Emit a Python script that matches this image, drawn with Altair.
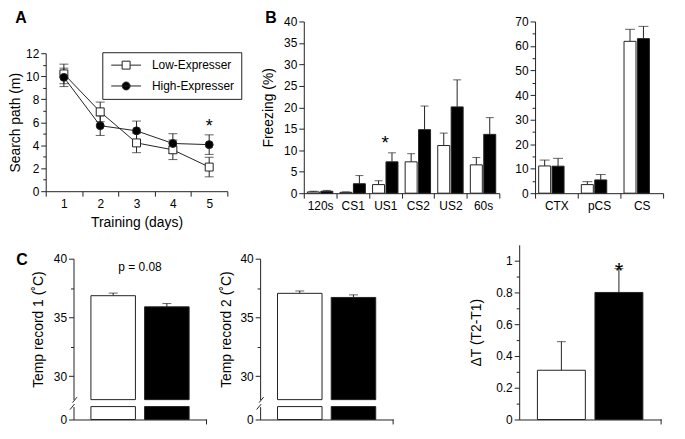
import altair as alt
import pandas as pd

FONT = "Liberation Sans"
INK = "#222222"

groups = ["Low-Expresser", "High-Expresser"]
group_fills = ["#ffffff", "#000000"]

# ---- Panel A: search path (m) by training day
days = [1, 2, 3, 4, 5]
a_low = [10.2, 6.9, 4.2, 3.6, 2.1]
a_low_err = [0.85, 0.85, 0.85, 0.85, 0.85]
a_high = [9.9, 5.7, 5.25, 4.15, 4.05]
a_high_err = [0.8, 0.85, 0.85, 0.85, 0.85]
a_y_ticks = list(range(0, 13))
a_star_day = [5]
a_star_y = [5.55]

# ---- Panel B: freezing (%)
b1_cats = ["120s", "CS1", "US1", "CS2", "US2", "60s"]
b1_low = [0.3, 0.2, 2.0, 7.3, 11.1, 6.6]
b1_low_err = [0.15, 0.1, 0.9, 1.9, 2.9, 1.7]
b1_high = [0.45, 2.2, 7.3, 14.8, 20.1, 13.7]
b1_high_err = [0.2, 1.9, 2.1, 5.5, 6.3, 3.9]
b1_y_ticks = list(range(0, 41, 5))
b1_star_cat = ["US1"]
b1_star_y = [11.7]

b2_cats = ["CTX", "pCS", "CS"]
b2_low = [11.1, 3.5, 61.9]
b2_low_err = [2.4, 1.2, 4.9]
b2_high = [11.0, 5.4, 63.0]
b2_high_err = [3.2, 2.2, 5.0]
b2_y_ticks = list(range(0, 71, 5))

# ---- Panel C: temperatures
c1_vals = [36.85, 35.9]
c1_err = [0.22, 0.28]
c2_vals = [37.05, 36.7]
c2_err = [0.2, 0.22]
c_upper_ticks = [30, 32.5, 35, 37.5, 40]
c1_p_text = "p = 0.08"
c1_p_y = [39.25]
c3_vals = [0.31, 0.80]
c3_err = [0.18, 0.15]
c3_y_ticks = [0, 0.1, 0.2, 0.3, 0.4, 0.5, 0.6, 0.7, 0.8, 0.9, 1.0]
c3_star_y = [0.937]

SQ_PATH = "M-3.75,0H-1M1,0H3.75M-1,-1H1V1H-1Z"
CI_PATH = "M-3.75,0H3.75M1,0A1,1,0,1,1,-1,0A1,1,0,1,1,1,0Z"

one = pd.DataFrame({"k": [0]})

H1 = 173   # top row plot height
H2 = 176   # bottom row plot height
WA, WB1, WB2 = 196, 197, 129
WC1, WC2, WC3 = WA, WB1, WB2


def label(txt, x, y, size=16, weight="bold"):
    return alt.Chart(one).mark_text(
        text=txt, font=FONT, fontSize=size, fontWeight=weight, color="#000000",
        align="center", baseline="alphabetic"
    ).encode(x=alt.value(x), y=alt.value(y))


def fill_enc():
    return alt.Fill("group:N", scale=alt.Scale(domain=groups, range=group_fills), legend=None)


# ================= Panel A =================
dfA = pd.DataFrame({
    "day": days + days,
    "group": [groups[0]] * 5 + [groups[1]] * 5,
    "value": a_low + a_high,
    "err": a_low_err + a_high_err,
})
dfA["lo"] = dfA["value"] - dfA["err"]
dfA["hi"] = dfA["value"] + dfA["err"]
dfA["hidden"] = -5.0

xA = alt.X("day:O", scale=alt.Scale(type="band", domain=days, paddingInner=0, paddingOuter=0, range=[-28, 155]),
           axis=alt.Axis(title="Training (days)", labelAngle=0, tickBand="extent", offset=-2, titlePadding=7))
yA_scale = alt.Scale(domain=[0, 12], range=[H1 - 2, 32], nice=False)
yA_axis = alt.Axis(title="Search path (m)", values=a_y_ticks, offset=28, titlePadding=3,
                   labelExpr="datum.value % 2 == 0 ? datum.label : ''",
                   tickSize={"condition": {"test": "datum.value % 2 != 0", "value": 3}, "value": 5})


def yA(f):
    return alt.Y(f, scale=yA_scale, axis=yA_axis)


baseA = alt.Chart(dfA)
a_lines = baseA.mark_line(color=INK, strokeWidth=1).encode(x=xA, y=yA("value:Q"), detail="group:N")
a_err = baseA.mark_rule(color=INK, strokeWidth=1).encode(x=xA, y=yA("lo:Q"), y2="hi:Q")
a_cap_lo = baseA.mark_tick(color=INK, thickness=1, size=9).encode(x=xA, y=yA("lo:Q"))
a_cap_hi = baseA.mark_tick(color=INK, thickness=1, size=9).encode(x=xA, y=yA("hi:Q"))
a_points = baseA.mark_point(filled=True, size=64, stroke=INK, strokeWidth=1, opacity=1).encode(
    x=xA, y=yA("value:Q"),
    shape=alt.Shape("group:N", scale=alt.Scale(domain=groups, range=["square", "circle"]), legend=None),
    fill=fill_enc(),
)
leg = alt.Legend(title=None, orient="none", legendX=29, legendY=31, strokeColor=INK, padding=7,
                 labelFont=FONT, labelFontSize=12, labelColor="#000000", symbolSize=64,
                 symbolStrokeWidth=1, symbolStrokeColor=INK, symbolOpacity=1, rowPadding=9,
                 labelOffset=20, symbolOffset=11)
# legend carrier: points placed below the visible domain and clipped away
a_legend = baseA.mark_point(filled=False, size=64, strokeWidth=1, opacity=1, clip=True).encode(
    x=xA, y=yA("hidden:Q"),
    shape=alt.Shape("group:N", scale=alt.Scale(domain=groups, range=[SQ_PATH, CI_PATH]), legend=leg),
    fill=alt.Fill("group:N", scale=alt.Scale(domain=groups, range=group_fills), legend=leg),
    stroke=alt.Stroke("group:N", scale=alt.Scale(domain=groups, range=[INK, INK]), legend=leg),
)
a_star = alt.Chart(pd.DataFrame({"day": a_star_day, "y": a_star_y})).mark_text(
    text="*", font=FONT, fontSize=18, color="#000000", baseline="middle"
).encode(x=xA, y=yA("y:Q"))

panelA = alt.layer(
    a_err, a_cap_lo, a_cap_hi, a_lines, a_points, a_legend, a_star, label("A", -53, 1.5)
).resolve_scale(shape="independent", fill="independent", stroke="independent").properties(width=WA, height=H1)


# ================= Panel B =================
def freezing_panel(cats, low, low_err, high, high_err, dom, ticks, major, title, pin, pout, cap,
                   width, extra=()):
    df = pd.DataFrame({
        "cat": cats + cats,
        "group": [groups[0]] * len(cats) + [groups[1]] * len(cats),
        "value": low + high,
        "err": low_err + high_err,
    })
    df["top"] = df["value"] + df["err"]
    x = alt.X("cat:N", sort=cats, scale=alt.Scale(domain=cats, paddingInner=0, paddingOuter=0),
              axis=alt.Axis(title=None, labelAngle=0, tickBand="extent"))
    xo = alt.XOffset("group:N", sort=groups,
                     scale=alt.Scale(domain=groups, paddingInner=pin, paddingOuter=pout))
    ax_kw = dict(values=ticks, labelExpr=f"datum.value % {major} == 0 ? datum.label : ''",
                 tickSize={"condition": {"test": f"datum.value % {major} != 0", "value": 3}, "value": 5})
    if title:
        ax_kw.update(title=title, titlePadding=8)
    else:
        ax_kw.update(title=None)
    ysc = alt.Scale(domain=dom, nice=False)

    def y(f):
        return alt.Y(f, scale=ysc, axis=alt.Axis(**ax_kw))

    base = alt.Chart(df)
    bars = base.mark_bar(stroke=INK, strokeWidth=1).encode(x=x, xOffset=xo, y=y("value:Q"), fill=fill_enc())
    err = base.mark_rule(color=INK, strokeWidth=1).encode(x=x, xOffset=xo, y=y("value:Q"), y2="top:Q")
    caps = base.mark_tick(color=INK, thickness=1, size=cap).encode(x=x, xOffset=xo, y=y("top:Q"))
    layers = [err, bars, caps]
    for e in extra:
        layers.append(e(x, y))
    return alt.layer(*layers).properties(width=width, height=H1)


def b1_star(x, y):
    return alt.Chart(pd.DataFrame({"cat": b1_star_cat, "y": b1_star_y})).mark_text(
        text="*", font=FONT, fontSize=19, color="#000000", baseline="middle"
    ).encode(x=x, y=y("y:Q"))


def b_label(x, y):
    return label("B", -33, 1.5)


panelB1 = freezing_panel(b1_cats, b1_low, b1_low_err, b1_high, b1_high_err, [0, 40], b1_y_ticks, 5,
                         "Freezing (%)", 0.107, 0.268, 8, WB1, extra=(b1_star, b_label))
panelB2 = freezing_panel(b2_cats, b2_low, b2_low_err, b2_high, b2_high_err, [0, 70], b2_y_ticks, 10,
                         None, 0.133, 0.35, 10, WB2)


# ================= Panel C =================
def cx(pin, pout, rng):
    return alt.X("group:N", sort=groups,
                 scale=alt.Scale(domain=groups, paddingInner=pin, paddingOuter=pout, range=rng),
                 axis=alt.Axis(title=None, labels=False, ticks=False))


UP_BOTTOM = H2 - 20
LO_TOP = H2 - 13
CW = 134


def temp_panel(vals, errs, title, tpad, width, ax0, extra_upper=(), extra=()):
    df = pd.DataFrame({"group": groups, "value": vals, "err": errs})
    df["top"] = df["value"] + df["err"]
    x = cx(0.171, 0.324, [ax0, ax0 + CW])
    up_sc = alt.Scale(domain=[28, 40], range=[UP_BOTTOM, 14], clamp=True, nice=False, zero=False)
    up_ax = alt.Axis(orient="left", title=title, titlePadding=tpad, values=c_upper_ticks, offset=-ax0,
                     labelExpr="datum.value % 5 == 0 ? datum.label : ''",
                     tickSize={"condition": {"test": "datum.value % 5 != 0", "value": 3}, "value": 5})

    def yu(f):
        return alt.Y(f, scale=up_sc, axis=up_ax)

    base = alt.Chart(df)
    up_bars = base.mark_bar(stroke=INK, strokeWidth=1).encode(x=x, y=yu("value:Q"), y2=alt.datum(0), fill=fill_enc())
    up_err = base.mark_rule(color=INK, strokeWidth=1).encode(x=x, y=yu("value:Q"), y2="top:Q")
    up_cap = base.mark_tick(color=INK, thickness=1, size=9).encode(x=x, y=yu("top:Q"))
    ups = [up_err, up_bars, up_cap] + [e(yu) for e in extra_upper]
    upper = alt.layer(*ups)

    lo_sc = alt.Scale(domain=[0, 1], range=[H2, LO_TOP], clamp=True, nice=False)
    lo_ax = alt.Axis(orient="left", title=None, values=[0], tickSize=5, offset=-ax0)
    lower = base.mark_bar(stroke=INK, strokeWidth=1).encode(
        x=x, y=alt.Y("value:Q", scale=lo_sc, axis=lo_ax), y2=alt.datum(0), fill=fill_enc())

    brk1 = alt.Chart(one).mark_rule(color=INK, strokeWidth=1).encode(
        x=alt.value(ax0 - 1), x2=alt.value(ax0 + 3.5), y=alt.value(UP_BOTTOM + 3), y2=alt.value(UP_BOTTOM - 2.5))
    brk2 = alt.Chart(one).mark_rule(color=INK, strokeWidth=1).encode(
        x=alt.value(ax0 - 3.5), x2=alt.value(ax0 + 1), y=alt.value(LO_TOP + 3), y2=alt.value(LO_TOP - 2.5))
    endtick = alt.Chart(one).mark_rule(color=INK, strokeWidth=1).encode(
        x=alt.value(ax0 + CW), y=alt.value(H2), y2=alt.value(H2 + 5))
    return alt.layer(upper, lower, brk1, brk2, endtick, *extra).resolve_scale(y="independent").properties(
        width=width, height=H2)


def p_text(yu):
    return alt.Chart(pd.DataFrame({"py": c1_p_y})).mark_text(
        text=c1_p_text, font=FONT, fontSize=12, color="#000000", baseline="middle", align="center"
    ).encode(x=alt.value(CW / 2), y=yu("py:Q"))


panelC1 = temp_panel(c1_vals, c1_err, "Temp record 1 (˚C)", 8, WC1, 0,
                     extra_upper=(p_text,), extra=(label("C", -52, 20),))
panelC2 = temp_panel(c2_vals, c2_err, "Temp record 2 (˚C)", 6, WC2, -44)

# delta T panel
dfC3 = pd.DataFrame({"group": groups, "value": c3_vals, "err": c3_err})
dfC3["top"] = dfC3["value"] + dfC3["err"]
x3 = cx(0.167, 0.317, [-16, WC3 - 2])
y3_sc = alt.Scale(domain=[0, 1.1], nice=False)
y3_ax = alt.Axis(title="ΔT (T2-T1)", titlePadding=12, values=c3_y_ticks, format="~g", offset=16,
                 labelExpr="round(datum.value * 10) % 2 == 0 ? datum.label : ''",
                 tickSize={"condition": {"test": "round(datum.value * 10) % 2 != 0", "value": 3}, "value": 5})


def y3(f):
    return alt.Y(f, scale=y3_sc, axis=y3_ax)


base3 = alt.Chart(dfC3)
c3_bars = base3.mark_bar(stroke=INK, strokeWidth=1).encode(x=x3, y=y3("value:Q"), fill=fill_enc())
c3_err_l = base3.mark_rule(color=INK, strokeWidth=1).encode(x=x3, y=y3("value:Q"), y2="top:Q")
c3_cap = base3.mark_tick(color=INK, thickness=1, size=9).encode(x=x3, y=y3("top:Q"))
c3_star = alt.Chart(pd.DataFrame({"group": [groups[1]], "y": c3_star_y})).mark_text(
    text="*", font=FONT, fontSize=22, color="#000000", baseline="middle"
).encode(x=x3, y=y3("y:Q"))
c3_end = alt.Chart(one).mark_rule(color=INK, strokeWidth=1).encode(
    x=alt.value(WC3 - 2), y=alt.value(H2), y2=alt.value(H2 + 5))
panelC3 = alt.layer(c3_err_l, c3_bars, c3_cap, c3_star, c3_end).properties(width=WC3, height=H2)


chart = alt.ConcatChart(
    concat=[panelA, panelB1, panelB2, panelC1, panelC2, panelC3],
    columns=3,
    spacing={"row": 52, "column": 36},
    align="each",
    bounds="flush",
).properties(padding=0).configure_view(stroke=None).configure_axis(
    domainColor=INK, domainWidth=1, tickColor=INK, tickWidth=1, tickSize=5,
    labelColor="#000000", titleColor="#000000", labelFont=FONT, titleFont=FONT,
    labelFontSize=12, titleFontSize=14, titleFontWeight="normal", grid=False,
    labelOverlap=False, labelPadding=2,
)

chart.save("out.html", embed_options={"renderer": "svg", "actions": False})
